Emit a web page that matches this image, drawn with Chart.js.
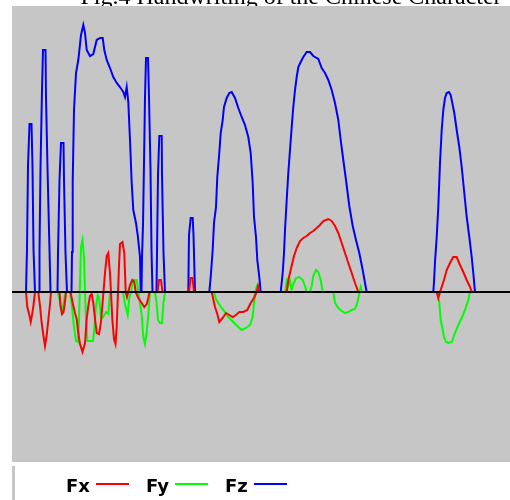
<!DOCTYPE html>
<html>
<head>
<meta charset="utf-8">
<script src="https://cdn.jsdelivr.net/npm/chart.js@4.4.1/dist/chart.umd.min.js"></script>
<style>
  html, body { margin: 0; padding: 0; background: #fff; }
  #wrap { position: relative; width: 510px; height: 500px; overflow: hidden; }
  #chart { position: absolute; left: 0; top: 0; }
  #strip { position: absolute; left: 12px; top: 466px; width: 3px; height: 34px; background: #c6c6c6; }
  #legend { position: absolute; left: 66px; top: 475px; display: flex; line-height: 21px;
            font: bold 18px "DejaVu Sans", sans-serif; color: #000; }
  .item { display: flex; align-items: center; margin-right: 17px; }
  .swatch { width: 33px; height: 2px; margin-left: 6px; position: relative; top: -2px; }
</style>
</head>
<body>
<div id="wrap">
  <canvas id="chart" width="510" height="500"></canvas>
  <div id="strip"></div>
  <div id="legend"></div>
</div>
<script>
  const titleText = 'Fig.4 Handwriting of the Chinese Character';
  const seriesNames = ['Fx', 'Fy', 'Fz'];
  const seriesColors = ['#ff0000', '#00ff00', '#0000ff'];
  const plotBg = '#c6c6c6';

  // [sample, force] pairs
  const fxPts = [
    [0,0],
    [14,0],[15.3,-15],[17.3,-23],[18.7,-30],[20,-23],[21.3,-15],[23,0],
    [26.3,0],[28,-14],[29.7,-31],[31.3,-43],[33,-54],[34.7,-43],[36.3,-28],[38,-12],[39,0],
    [47.5,0],[48.5,-14],[50,-22],[51.5,-20],[53,-10],[54,0],
    [58.5,0],[60.7,-11],[63,-21],[64.7,-27],[66.3,-41],[68,-52],[70.5,-60],[73,-51],[74.7,-27],
    [76.3,-14],[78,-4],[79.7,-2],[81.3,-11],[83,-27],[84.7,-41],[87,-42],[89,-30],[91.3,-2],
    [93,19],[94.7,36],[96.3,39],[98,19],[99,0],[100.3,-27],[102,-47],[103.5,-52],[104.7,-35],
    [105.7,-8],[107,26],[108,48],[110.5,50],[112.3,39],[113.7,0],[115,-5],[116.3,0],[118,7],
    [120.3,12],[122.3,10],[123.7,0],[126.3,-6],[129.7,-11],[132.3,-15],[134.7,-12],[136.3,-6],[137.5,0],
    [145.5,0],[147,12],[149,12],[150.5,0],
    [177,0],[178.5,14],[180.5,14],[182,0],
    [199.7,0],[203,-15],[205.3,-22],[207.3,-30],[210.7,-26],[214,-21],[217.3,-23],[220.7,-25],
    [224,-23],[227.3,-20],[231.3,-20],[235.3,-18],[238.7,-11],[242,-6],[244.7,0],[246,6],[247.5,0],
    [274.7,0],[276.3,12],[278.7,22],[282,36],[284.7,44],[288,51],[291.3,54],[294.7,56],[298,59],
    [301.3,61],[304.7,64],[308,67],[311.3,71],[314,72],[316.3,73],[319.7,71],[323,66],[326.3,59],
    [329.7,49],[333,39],[336.3,29],[339.7,19],[343,9],[346.3,0],
    [424.7,0],[426.3,-6],[428,0],[429.7,5],[432,12],[434.7,22],[438,29],[441.3,35],[444.7,35],
    [448,27],[451.3,20],[454.7,12],[458,5],[459.7,0],
    [498,0]
  ];

  const fyPts = [
    [0,0],
    [45.7,0],[47.3,-6],[48.7,-14],[50,-19],[51.3,-13],[52.3,-6],[53.7,0],
    [58,0],[60,-15],[62,-35],[64,-49],[66,-50],[67,-30],[68,10],[69,45],[70.5,52],[72,35],[73,0],
    [74,-29],[75.5,-49],[81,-49],[82.5,-35],[84,-14],[85.7,-3],[87,-5],[89,-26],[90.3,-26],
    [92.3,-23],[94,-20],[96.3,-22],[98,0],
    [111,0],[113,-12],[115.7,-23],[117.3,-6],[119,0],[120.5,10],[122,12],[124.7,12],[126.3,0],
    [129.7,-23],[131.3,-45],[133,-52],[134.7,-40],[136.3,-23],[138,0],
    [143,0],[144.5,-10],[146,-28],[148,-31],[150,-31],[151.5,-10],[153,0],
    [202,0],[204,-7],[206.3,-11],[209.7,-16],[213,-20],[216.3,-25],[221.3,-30],[226.3,-35],
    [229.7,-38],[234,-36],[238,-33],[240.7,-25],[242,-11],[243,0],[244.7,5],[246,0],
    [273,0],[274.7,11],[276.3,6],[278,11],[279.7,2],[281.3,8],[284,14],[287.3,15],[290.7,12],
    [293,6],[294.7,0],[298,0],[299.7,6],[301.3,16],[304,22],[306.3,20],[308.7,12],[310.7,0],
    [321.3,0],[323,-11],[326.3,-16],[329.7,-19],[333,-21],[336.3,-20],[339.7,-18],[343,-17],
    [345.3,-11],[347.3,-1],[348.7,5],[350,0],
    [425.3,0],[427.3,-11],[428.7,-28],[430.7,-38],[432,-45],[434,-50],[436.3,-51],[439.7,-50],
    [443,-41],[446.3,-33],[449.7,-26],[453,-18],[456.3,-8],[458,0],
    [498,0]
  ];

  const fzPts = [
    [0,0],
    [14,0],[15,43],[16,126],[17.5,168],[19.5,168],[20.5,126],[21.5,43],[23,0],
    [27,0],[27.5,42],[28.5,124],[30,202],[31,242],[33.5,242],[34,195],[35.5,124],[37.5,42],[38.5,0],
    [45.5,0],[46,39],[47.5,112],[49,149],[51.5,149],[52,112],[53.5,39],[55,0],
    [59.5,0],[60,40],[60.7,110],[62,182],[64,219],[66.3,232],[69,257],[71.3,267],[73,259],
    [74.7,242],[78,236],[81.3,238],[84.7,252],[88,254],[90.7,254],[92.3,242],[94.7,232],[98,224],
    [101.3,215],[104.7,209],[108,205],[111.3,200],[113,195],[114.7,205],[116.3,190],[118,152],
    [119.7,109],[121.3,82],[124,69],[125.7,57],[128,35],[128.7,0],
    [129.5,0],[130,35],[131,67],[132,129],[133,195],[134,234],[136,234],[137,195],[138.5,122],[139.5,42],[140.5,0],
    [144.5,0],[145,39],[146,117],[147.3,156],[149.7,156],[150,117],[151.5,39],[153,0],
    [176.3,0],[177,57],[178.7,74],[180.7,74],[181.5,57],[183,0],
    [197.3,0],[198.7,15],[200.7,42],[202,69],[204,85],[205.3,115],[207.3,139],[208.7,159],
    [210.7,172],[212,185],[214.7,194],[217.3,199],[219.7,200],[223,194],[226.3,184],[229.7,175],
    [233,167],[236.3,155],[238.7,139],[240.7,109],[242,75],[244,55],[245.3,32],[247.3,15],[248.7,0],
    [268.7,0],[270.7,19],[272,39],[273,62],[274.7,92],[276.3,119],[278,142],[279.7,165],
    [281.3,185],[283,202],[284.7,215],[286.3,225],[288.7,230],[291.3,235],[294.7,240],[298,240],
    [301.3,236],[306.3,233],[309.7,224],[313,219],[316.3,212],[319.7,202],[323,189],[326.3,172],
    [328.7,152],[331.3,132],[334,112],[337.3,86],[340.7,66],[344,52],[347.3,39],[350.7,22],
    [353,9],[354.7,0],
    [421.3,0],[422,10],[423,30],[424.7,55],[426.3,85],[428,129],[429.7,162],[431.3,182],[433,194],
    [434.7,199],[437,200],[438.7,197],[440.3,189],[442.3,179],[444.7,162],[447.3,145],[449.7,125],
    [451.3,109],[453,92],[454.7,75],[457.3,55],[459.7,35],[461.3,19],[463,0],
    [498,0]
  ];

  const xMin = 0, xMax = 498;
  const yMin = -170, yMax = 286;

  const toXY = pts => pts.map(p => ({ x: p[0], y: p[1] }));
  const allPts = [fxPts, fyPts, fzPts];

  const backdrop = {
    id: 'backdrop',
    beforeDraw(chart) {
      const { ctx, chartArea: a } = chart;
      ctx.save();
      ctx.fillStyle = '#000';
      ctx.font = '24px "Liberation Serif", serif';
      ctx.textAlign = 'center';
      ctx.textBaseline = 'alphabetic';
      ctx.fillText(titleText, 291, 4);
      ctx.fillStyle = plotBg;
      ctx.fillRect(a.left, a.top, a.right - a.left, a.bottom - a.top);
      ctx.restore();
    }
  };

  // black zero axis drawn over the traces
  const zeroLine = {
    id: 'zeroLine',
    afterDatasetsDraw(chart) {
      const { ctx, chartArea: a, scales } = chart;
      const y = scales.y.getPixelForValue(0);
      ctx.save();
      ctx.strokeStyle = '#000';
      ctx.lineWidth = 2;
      ctx.beginPath();
      ctx.moveTo(a.left, y);
      ctx.lineTo(a.right, y);
      ctx.stroke();
      ctx.restore();
    }
  };

  const chart = new Chart(document.getElementById('chart'), {
    type: 'line',
    data: {
      datasets: seriesNames.map((name, i) => ({
        label: name,
        data: toXY(allPts[i]),
        borderColor: seriesColors[i],
        borderWidth: 2,
        pointRadius: 0,
        tension: 0,
        fill: false
      }))
    },
    options: {
      responsive: false,
      animation: false,
      layout: { padding: { left: 12, top: 6, right: 0, bottom: 38 } },
      scales: {
        x: { type: 'linear', min: xMin, max: xMax, display: false },
        y: { min: yMin, max: yMax, display: false }
      },
      plugins: { legend: { display: false }, tooltip: { enabled: false } }
    },
    plugins: [backdrop, zeroLine]
  });

  // legend: name first, then a short line in the series colour
  const legend = document.getElementById('legend');
  chart.data.datasets.forEach(ds => {
    const item = document.createElement('div');
    item.className = 'item';
    const label = document.createElement('span');
    label.textContent = ds.label;
    const sw = document.createElement('span');
    sw.className = 'swatch';
    sw.style.background = ds.borderColor;
    item.appendChild(label);
    item.appendChild(sw);
    legend.appendChild(item);
  });
</script>
</body>
</html>
